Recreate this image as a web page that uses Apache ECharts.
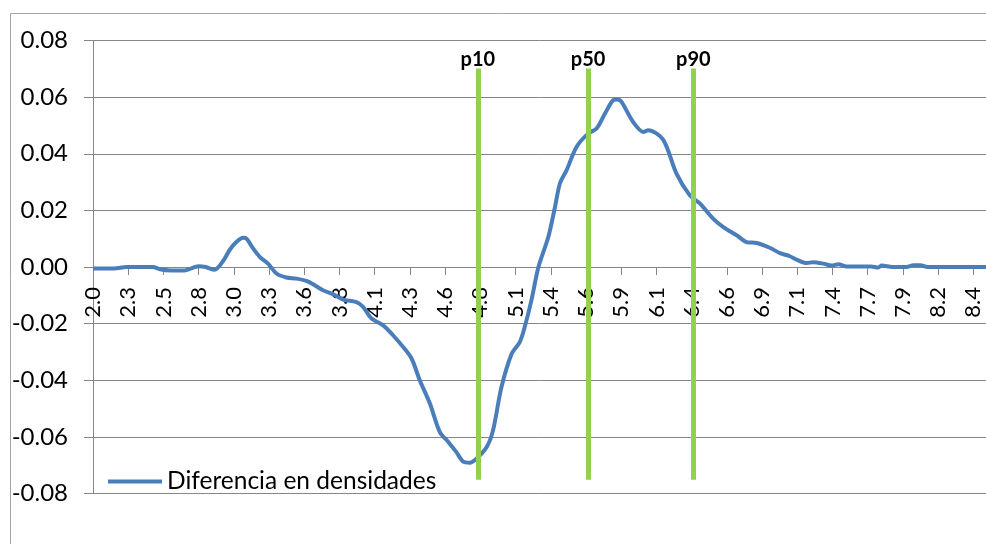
<!DOCTYPE html>
<html>
<head>
<meta charset="utf-8">
<script src="https://cdn.jsdelivr.net/npm/echarts@6/dist/echarts.min.js"></script>
<style>
  html, body { margin: 0; padding: 0; background: #fff; }
  #chart { width: 986px; height: 544px; }
</style>
</head>
<body>
<div id="chart"></div>
<script>
// etiquetas del eje x (una por marca)
const tickLabels = ['2.0', '2.3', '2.5', '2.8', '3.0', '3.3', '3.6', '3.8', '4.1', '4.3',
  '4.6', '4.8', '5.1', '5.4', '5.6', '5.9', '6.1', '6.4', '6.6', '6.9',
  '7.1', '7.4', '7.7', '7.9', '8.2', '8.4']

// posicion sobre el eje (en marcas) y valor de la diferencia
const xPos = [0, 0.6, 0.95, 1.7, 1.9, 2.2, 2.6, 3.0, 3.2, 3.45,
  3.7, 3.88, 4.07, 4.26, 4.36, 4.55, 4.74, 4.97, 5.21, 5.49,
  5.78, 6.06, 6.25, 6.53, 6.85, 7.1, 7.48, 7.67, 7.91, 8.24,
  8.52, 8.81, 9.05, 9.28, 9.57, 9.85, 10.09, 10.32, 10.51, 10.7,
  10.89, 11.18, 11.36, 11.6, 11.89, 12.12, 12.26, 12.45, 12.65, 12.93,
  13.12, 13.26, 13.45, 13.73, 14.06, 14.3, 14.54, 14.77, 14.9, 15.01,
  15.34, 15.63, 15.77, 16.19, 16.57, 16.95, 17.24, 17.61, 17.9, 18.28,
  18.56, 18.85, 19.22, 19.51, 19.79, 19.98, 20.27, 20.45, 20.74, 20.98,
  21.17, 21.4, 22.1, 22.3, 22.4, 22.7, 23.1, 23.3, 23.5, 23.7, 25.36]
const diffValues = [-0.0005, -0.0005, 0.0, 0.0, -0.0008, -0.0012, -0.0012, 0.0003, 0.0, -0.001,
  0.0022, 0.006, 0.0088, 0.0103, 0.0100, 0.0065, 0.0035, 0.0012, -0.0023, -0.0037,
  -0.0041, -0.0049, -0.0061, -0.0082, -0.0098, -0.0115, -0.0124, -0.0141, -0.0182, -0.0206,
  -0.0241, -0.0283, -0.0324, -0.0400, -0.0483, -0.0583, -0.0618, -0.0654, -0.0687, -0.0691,
  -0.0677, -0.0636, -0.0577, -0.0424, -0.0306, -0.0265, -0.0212, -0.0118, 0.0, 0.0106,
  0.0212, 0.0295, 0.0342, 0.0424, 0.0471, 0.0489, 0.0542, 0.0589, 0.0592, 0.0583,
  0.0512, 0.0477, 0.0483, 0.0450, 0.0330, 0.0253, 0.0224, 0.0171, 0.0141, 0.0112,
  0.0088, 0.0085, 0.0068, 0.0049, 0.0038, 0.0026, 0.0014, 0.0017, 0.0012, 0.0005,
  0.0010, 0.0002, 0.0002, -0.0002, 0.0005, 0.0, 0.0, 0.0006, 0.0006, 0.0, 0.0]

// percentiles
const pctNames = ['p10', 'p50', 'p90']
const pctPos = [10.93, 14.06, 17.05]
const pctTop = 0.0701
const pctBottom = -0.0751

const FONT = 'Lato'
const GRAY = '#868686'

const chart = echarts.init(document.getElementById('chart'))

// el eje x va sobre el cero: se sube media altura del grid
const gridTop = 40.5
const gridBottom = 50.5
const zeroOffset = (544 - gridTop - gridBottom) / 2

const options = {
  animation: false,
  textStyle: { fontFamily: FONT, color: '#000' },
  graphic: [
    {
      type: 'rect',
      silent: true,
      shape: { x: 10.5, y: 13.5, width: 2000, height: 2000 },
      style: { fill: 'none', stroke: '#a6a6a6', lineWidth: 1 }
    }
  ],
  grid: { left: 93, right: 0, top: gridTop, bottom: gridBottom },
  legend: {
    left: 103,
    top: 464,
    icon: 'rect',
    itemWidth: 54,
    itemHeight: 4,
    data: ['Diferencia en densidades'],
    textStyle: { fontFamily: FONT, fontSize: 24.5, color: '#000' }
  },
  xAxis: {
    type: 'value',
    min: 0,
    max: 25.36,
    interval: 1,
    position: 'bottom',
    offset: -zeroOffset,
    axisLine: { onZero: false, lineStyle: { color: GRAY, width: 1 } },
    axisTick: { show: true, length: 8, lineStyle: { color: GRAY } },
    splitLine: { show: false },
    axisLabel: {
      rotate: 90,
      margin: 20,
      fontFamily: FONT,
      fontSize: 22,
      color: '#000',
      showMaxLabel: false,
      formatter: v => (Number.isInteger(v) && v < tickLabels.length ? tickLabels[v] : '')
    }
  },
  yAxis: {
    type: 'value',
    min: -0.08,
    max: 0.08,
    interval: 0.02,
    axisLine: { show: true, onZero: false, lineStyle: { color: GRAY, width: 1 } },
    axisTick: { show: true, length: 9, lineStyle: { color: GRAY } },
    splitLine: { lineStyle: { color: GRAY, width: 1 } },
    axisLabel: {
      margin: 25,
      fontFamily: FONT,
      fontSize: 24,
      color: '#000',
      formatter: v => v.toFixed(2)
    }
  },
  series: [
    {
      name: 'Diferencia en densidades',
      type: 'line',
      data: xPos.map((x, i) => [x, diffValues[i]]),
      smooth: 0.3,
      symbol: 'none',
      lineStyle: { color: '#4a7ebb', width: 4 },
      itemStyle: { color: '#4a7ebb' },
      emphasis: { disabled: true },
      z: 3,
      markLine: {
        silent: true,
        symbol: ['none', 'none'],
        lineStyle: { color: '#92d050', width: 5, type: 'solid' },
        emphasis: { disabled: true },
        label: {
          show: true,
          position: 'start',
          distance: -1,
          fontFamily: FONT,
          fontSize: 20,
          fontWeight: 'bold',
          color: '#000',
          formatter: p => p.name
        },
        data: pctNames.map((name, i) => [
          { name: name, coord: [pctPos[i], pctTop] },
          { coord: [pctPos[i], pctBottom] }
        ])
      }
    }
  ]
}

chart.setOption(options)
</script>
</body>
</html>
